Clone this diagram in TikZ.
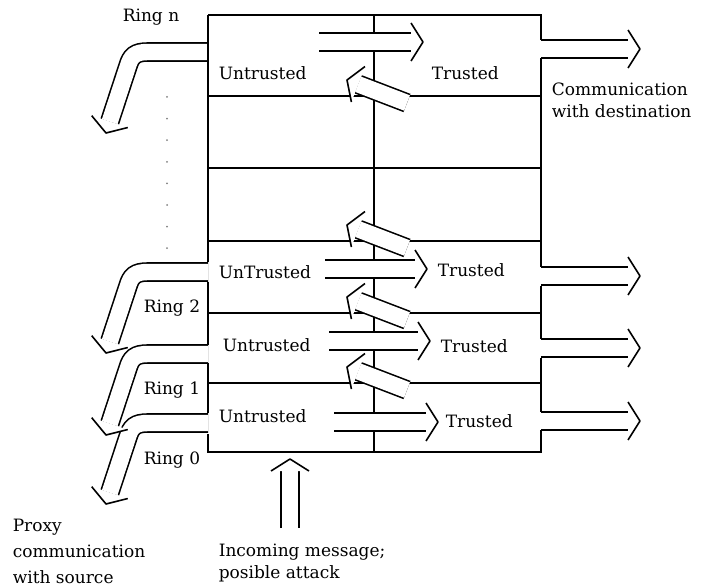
\documentclass[tikz,border=0pt]{standalone}
\usepackage{fontspec}
\setmainfont{DejaVu Serif}
\usetikzlibrary{arrows.meta}
% open chevron head for the hollow pipes
\pgfdeclarearrow{
  name = Chev,
  cache = false,
  parameters = {\the\pgfarrowlength,\the\pgfarrowwidth},
  setup code = {
    \pgfarrowssettipend{0pt}
    \pgfarrowssetlineend{-\pgfarrowlength}
    \pgfarrowssetbackend{-\pgfarrowlength}
    \pgfarrowssavethe\pgfarrowlength
    \pgfarrowssavethe\pgfarrowwidth
  },
  drawing code = {
    \pgfsetinnerlinewidth{0pt}
    \pgfsetlinewidth{1.6pt}
    \pgfsetroundjoin
    \pgfpathmoveto{\pgfpoint{-\pgfarrowlength}{.5\pgfarrowwidth}}
    \pgfpathlineto{\pgfpointorigin}
    \pgfpathlineto{\pgfpoint{-\pgfarrowlength}{-.5\pgfarrowwidth}}
    \pgfpathclose
    \pgfsetfillcolor{white}
    \pgfusepathqfill
    \pgfpathmoveto{\pgfpoint{-\pgfarrowlength}{.5\pgfarrowwidth}}
    \pgfpathlineto{\pgfpointorigin}
    \pgfpathlineto{\pgfpoint{-\pgfarrowlength}{-.5\pgfarrowwidth}}
    \pgfusepathqstroke
  },
  defaults = {length=12pt, width=38pt}
}
\tikzset {>=Chev}
\tikzset {pipe/.style={double=white,double distance=16.4pt,line width=1.6pt,->}}
\tikzset {txt/.style={inner sep=0pt,anchor=west,align=left,font=\fontsize{17}{22}\selectfont}}

\begin{document}
\begin{tikzpicture}[x=1pt,y=-1pt,line width=1.6pt]
\useasboundingbox (0,0) rectangle (702,588);
% rings leaving to the source side
\foreach \c in {423,354,272,52}
  \draw[pipe] (208,\c) -- (148,\c) .. controls (135,\c) and (131,\c+4) .. (128,\c+14) -- (106,\c+81);
% the box
\draw (208,15) -- (541,15) -- (541,40);
\draw (541,58) -- (541,267) (541,286) -- (541,339) (541,358) -- (541,412) (541,430) -- (541,452) -- (208,452) -- (208,434);
\draw (208,413) -- (208,363) (208,345) -- (208,282) (208,262) -- (208,15);
\draw (374,15) -- (374,452);
\foreach \y in {96,241,313,383}
  \draw (208,\y) -- (541,\y);
\draw[line width=2.8pt] (208,168) -- (541,168);
\foreach \k in {0,...,7}
  \fill[gray] (167,97+21.6*\k) circle (1pt);
% untrusted -> trusted
\foreach \y/\a/\b in {42/319/423,269/325/427,341/329/430,422/334/438}
  \draw[pipe] (\a,\y) -- (\b,\y);
% trusted -> untrusted
\foreach \y in {96,241,313,383}
  \draw[pipe] (407,\y+7) -- (347,\y-16);
% destination side
\foreach \y in {49,276,348,421}
  \draw[pipe] (541,\y) -- (640,\y);
\draw[pipe] (290,528) -- (290,459);
% labels
\node[txt] (ringn) at (122,17) {Ring n};
\node[txt] (ring2) at (143,308) {Ring 2};
\node[txt] (ring1) at (143,390) {Ring 1};
\node[txt] (ring0) at (143,460) {Ring 0};
\node[txt] (untr3) at (218,73) {Untrusted};
\node[txt] (untr2) at (218,272) {UnTrusted};
\node[txt] (untr1) at (222,345) {Untrusted};
\node[txt] (untr0) at (218,416) {Untrusted};
\node[txt] (tr3) at (431,73) {Trusted};
\node[txt] (tr2) at (437,270) {Trusted};
\node[txt] (tr1) at (440,346) {Trusted};
\node[txt] (tr0) at (445,421) {Trusted};
\node[txt] (dest) at (551,100) {Communication\\with destination};
\node[txt,font=\fontsize{17}{26}\selectfont] (src) at (12,551) {Proxy\\communication\\with source};
\node[txt] (msg) at (218,563) {Incoming message;\\posible attack};
\end{tikzpicture}
\end{document}
